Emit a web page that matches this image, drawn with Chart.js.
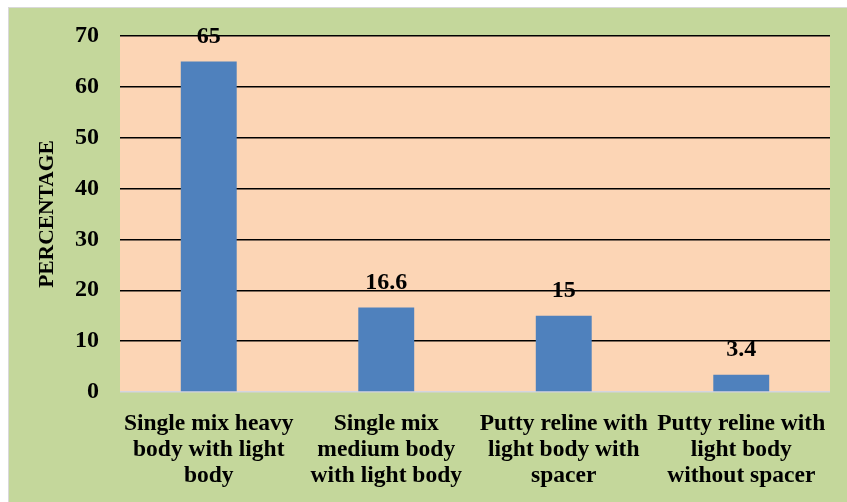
<!DOCTYPE html>
<html>
<head>
<meta charset="utf-8">
<script src="https://cdn.jsdelivr.net/npm/chart.js@4"></script>
<style>
  html, body { margin: 0; padding: 0; background: #ffffff; width: 847px; height: 502px; overflow: hidden; }
  #frame { position: absolute; left: 8px; top: 7px; width: 838px; height: 494px; border-top: 1px solid #d9d9d9; border-left: 1px solid #d9d9d9; background: #c4d79b; }
  #wrap { position: absolute; left: 0; top: 0; width: 838px; height: 494px; }
</style>
</head>
<body>
<div id="frame"><div id="wrap"><canvas id="c" width="838" height="494"></canvas></div></div>
<script>
const categories = [
  ["Single mix heavy", "body with light", "body"],
  ["Single mix", "medium body", "with light body"],
  ["Putty reline with", "light body with", "spacer"],
  ["Putty reline with", "light body", "without spacer"]
];
const percentages = [65, 16.6, 15, 3.4];
const valueLabels = ["65", "16.6", "15", "3.4"];
const yTicks = [0, 10, 20, 30, 40, 50, 60, 70];
const yTitle = "PERCENTAGE";

const FONT = "'Liberation Serif', 'Times New Roman', serif";

const plotBg = {
  id: 'plotBg',
  beforeDraw(chart) {
    const {ctx, chartArea: a} = chart;
    ctx.save();
    ctx.fillStyle = '#fcd5b5';
    ctx.fillRect(a.left, a.top, a.right - a.left, a.bottom - a.top);
    ctx.restore();
  }
};

const valueLabelPlugin = {
  id: 'valueLabels',
  afterDatasetsDraw(chart) {
    const {ctx} = chart;
    const meta = chart.getDatasetMeta(0);
    ctx.save();
    ctx.font = "bold 24px " + FONT;
    ctx.fillStyle = '#000';
    ctx.textAlign = 'center';
    ctx.textBaseline = 'middle';
    meta.data.forEach((bar, i) => {
      ctx.fillText(valueLabels[i], bar.x, bar.y - 25);
    });
    ctx.restore();
  }
};

new Chart(document.getElementById('c'), {
  type: 'bar',
  data: {
    labels: categories,
    datasets: [{
      data: percentages,
      backgroundColor: '#4f81bd',
      borderWidth: 0,
      categoryPercentage: 1,
      barPercentage: 0.315
    }]
  },
  options: {
    responsive: false,
    animation: false,
    devicePixelRatio: 1,
    layout: { padding: { top: 28, right: 17, left: 0, bottom: 0 } },
    plugins: { legend: { display: false }, tooltip: { enabled: false } },
    scales: {
      x: {
        grid: { display: false },
        border: { display: false },
        ticks: {
          color: '#000',
          font: { family: FONT, size: 23.5, weight: 'bold', lineHeight: 1.11 },
          padding: 11,
          maxRotation: 0,
          autoSkip: false
        },
        afterFit(scale) { scale.height = 110; scale.paddingTop = 0; scale.paddingBottom = 0; }
      },
      y: {
        min: 0,
        max: 70,
        afterBuildTicks(scale) { scale.ticks = yTicks.map(v => ({ value: v })); },
        grid: {
          drawTicks: false,
          color: (c) => c.tick && c.tick.value === 0 ? '#d4d4e0' : '#000000',
          lineWidth: 1.4
        },
        border: { display: false },
        ticks: {
          color: '#000',
          font: { family: FONT, size: 24, weight: 'bold' },
          padding: 21
        },
        title: {
          display: true,
          text: yTitle,
          color: '#000',
          font: { family: FONT, size: 21.5, weight: 'bold', lineHeight: 1.2 },
          padding: { top: 26, bottom: 0 }
        },
        afterFit(scale) { scale.width = 111; scale.paddingTop = 0; scale.paddingBottom = 0; }
      }
    }
  },
  plugins: [plotBg, valueLabelPlugin]
});
</script>
</body>
</html>
